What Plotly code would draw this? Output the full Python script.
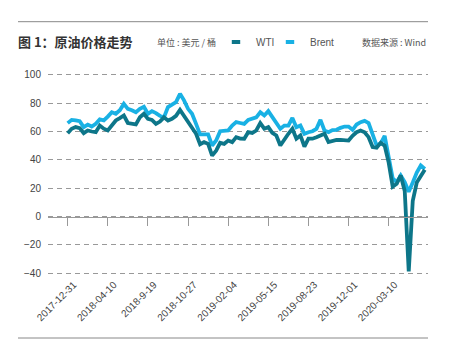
import plotly.graph_objects as go

# ---- data ----
idx = list(range(90))
tick_pos = [0, 10, 20, 30, 40, 50, 60, 70, 80]
tick_labels = ["2017-12-31", "2018-04-10", "2018-9-19", "2018-10-27", "2019-02-04",
               "2019-05-15", "2019-08-23", "2019-12-01", "2020-03-10"]

wti = [58.8, 61.9, 63.1, 62.4, 58.8, 60.7, 60.0, 59.5, 64.2, 62.0,
       60.7, 64.2, 67.8, 69.5, 71.3, 66.0, 65.4, 65.0, 70.0, 72.5,
       68.9, 68.2, 65.4, 67.0, 70.0, 67.8, 69.0, 71.0, 75.3, 71.0,
       66.0, 62.0, 58.4, 51.0, 52.5, 51.3, 43.0, 46.5, 52.0, 51.3,
       53.6, 52.5, 56.0, 55.0, 54.9, 59.5, 59.0, 60.7, 65.9, 62.0,
       63.1, 59.0, 57.2, 50.1, 54.9, 58.4, 61.9, 54.9, 57.2, 49.4,
       54.9, 54.9, 56.0, 57.2, 58.4, 52.5, 53.6, 54.0, 54.1, 54.1,
       53.6, 57.0, 59.5, 60.7, 59.5, 56.0, 49.0, 48.5, 52.0, 50.0,
       38.0, 21.0, 23.1, 29.0, 18.0, -38.8, 11.0, 24.0, 28.0, 33.0]

brent = [65.9, 68.2, 67.8, 67.3, 63.1, 64.9, 63.5, 65.4, 68.5, 67.8,
         70.5, 73.6, 72.5, 75.0, 79.5, 76.0, 75.0, 73.6, 76.0, 77.5,
         72.5, 74.4, 73.0, 71.0, 70.0, 77.2, 79.0, 80.7, 86.6, 82.0,
         76.0, 72.5, 65.4, 58.0, 57.9, 57.9, 50.1, 53.6, 60.2, 60.2,
         60.7, 64.2, 66.6, 66.0, 65.4, 68.2, 69.0, 70.0, 73.6, 71.3,
         74.4, 70.0, 66.6, 61.9, 64.2, 64.2, 69.6, 63.0, 64.2, 58.4,
         59.5, 60.2, 61.9, 68.2, 60.7, 59.5, 61.0, 61.2, 62.6, 63.5,
         63.5, 61.2, 64.9, 66.6, 67.5, 66.0, 58.0, 50.1, 51.5, 57.0,
         42.0, 27.0, 24.2, 29.0, 24.2, 17.5, 24.0, 31.0, 36.0, 33.5]

C_WTI = "#0d7689"
C_BRENT = "#19b1e4"
FONT = "Liberation Sans, Arial, Noto Sans CJK SC, sans-serif"

fig = go.Figure()
fig.add_trace(go.Scatter(x=idx, y=brent, mode="lines", name="Brent", showlegend=False,
                         line=dict(color=C_BRENT, width=3.8), legendgroup="b",
                         hoverinfo="skip"))
fig.add_trace(go.Scatter(x=idx, y=wti, mode="lines", name="WTI", showlegend=False,
                         line=dict(color=C_WTI, width=3.8), legendgroup="w",
                         hoverinfo="skip"))
# legend entries (short pill symbols), one legend box each
fig.add_trace(go.Scatter(x=[None], y=[None], mode="markers", name="WTI", legendgroup="w",
                         legend="legend",
                         marker=dict(symbol="line-ew", size=6, color=C_WTI,
                                     line=dict(width=4, color=C_WTI))))
fig.add_trace(go.Scatter(x=[None], y=[None], mode="markers", name="Brent", legendgroup="b",
                         legend="legend2",
                         marker=dict(symbol="line-ew", size=6, color=C_BRENT,
                                     line=dict(width=4, color=C_BRENT))))
# helper trace for the axis drawn at y=0
fig.add_trace(go.Scatter(x=[None], y=[None], xaxis="x2", showlegend=False, hoverinfo="skip"))

xr = [-4.9, 89.8]
leg_common = dict(orientation="h", xanchor="left", y=1+30/204, yanchor="middle",
                  font=dict(size=10, color="#555"), bgcolor="rgba(0,0,0,0)",
                  itemsizing="trace")
fig.update_layout(
    width=460, height=352,
    margin=dict(l=48, r=32, t=72, b=76),
    paper_bgcolor="white", plot_bgcolor="white",
    font=dict(family=FONT, size=10, color="#444"),
    title=dict(text="<b>图 1：原油价格走势</b>", x=18/460, xanchor="left",
               y=1-42/352, yanchor="middle", xref="container", yref="container",
               font=dict(size=13, color="#333", family="Noto Sans CJK SC, sans-serif")),
    xaxis=dict(range=xr, tickmode="array", tickvals=tick_pos, ticktext=tick_labels,
               tickangle=-45, showgrid=False, showline=False, ticks="", zeroline=False,
               ticklabelshift=6,
               tickfont=dict(size=10, color="#444")),
    xaxis2=dict(range=xr, overlaying="x", anchor="free", position=42/144,
                tickmode="array", tickvals=tick_pos, showticklabels=False,
                showline=True, linecolor="#999", linewidth=1,
                ticks="outside", ticklen=8, tickcolor="#999", tickwidth=1,
                showgrid=False, zeroline=False),
    yaxis=dict(range=[-42, 102], tickvals=[-40, -20, 0, 20, 40, 60, 80, 100],
               showgrid=True, gridcolor="#999", gridwidth=1, griddash="5px,4px",
               zeroline=False, showline=False, ticks="outside", ticklen=4,
               tickcolor="rgba(0,0,0,0)",
               tickfont=dict(size=10, color="#444")),
    legend=dict(x=(216-48)/380, **leg_common),
    legend2=dict(x=(270-48)/380, **leg_common),
    showlegend=True,
    annotations=[
        dict(text="单位 : 美元 / 桶", xref="paper", yref="paper", x=(155-48)/380, y=1+30/204,
             xanchor="left", yanchor="middle", showarrow=False,
             font=dict(size=9, color="#555", family="Noto Sans CJK SC, sans-serif")),
        dict(text="数据来源 : Wind", xref="paper", yref="paper", x=1.0, y=1+30/204,
             xanchor="right", yanchor="middle", showarrow=False,
             font=dict(size=9, color="#555", family="Noto Sans CJK SC, sans-serif")),
    ],
    shapes=[
        dict(type="line", xref="paper", yref="paper", x0=-30/380, x1=1.0,
             y0=1+50.3/204, y1=1+50.3/204, line=dict(color="#888", width=1)),
        dict(type="line", xref="paper", yref="paper", x0=-30/380, x1=1.0,
             y0=-62/204, y1=-62/204, line=dict(color="#888", width=1)),
    ],
)
fig.write_html("out.html")
